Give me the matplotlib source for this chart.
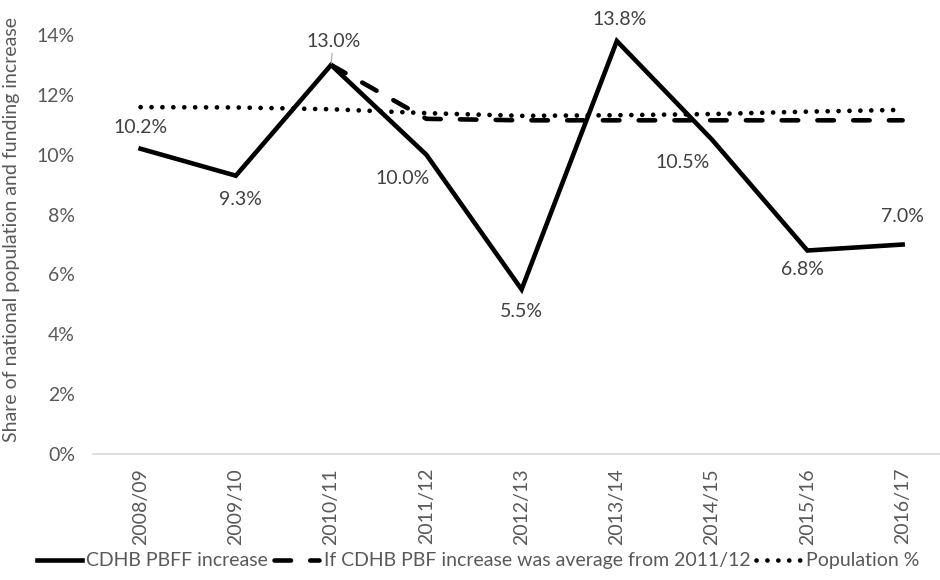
import numpy as np
import matplotlib
matplotlib.use('Agg')
import matplotlib.pyplot as plt

# Datos
years = ['2008/09', '2009/10', '2010/11', '2011/12', '2012/13',
         '2013/14', '2014/15', '2015/16', '2016/17']
cdhb_pbff = [10.2, 9.3, 13.0, 10.0, 5.5, 13.8, 10.5, 6.8, 7.0]
if_average = [np.nan, np.nan, 13.0, 11.2, 11.15, 11.15, 11.15, 11.15, 11.15]
population = [11.59, 11.58, 11.52, 11.39, 11.3, 11.32, 11.36, 11.44, 11.5]

# posiciones de las etiquetas (pixeles respecto al punto)
label_offsets = [(0, 21), (5, -24), (2, 23), (-24, -24), (0, -22),
                 (3, 22), (-30, -23), (-5, -19), (0, 28)]

plt.rcParams['font.family'] = ['Lato', 'DejaVu Sans']
gray = '#595959'
fs = 14

fig = plt.figure(figsize=(9.4, 5.8), dpi=100)
ax = fig.add_axes([0.0989, 0.2172, 0.912, 0.7224])

x = np.arange(len(years))
ax.plot(x, cdhb_pbff, color='black', lw=3.3, solid_joinstyle='miter',
        label='CDHB PBFF increase')
ax.plot(x, if_average, color='black', lw=3.3, dashes=(3.6, 4.2),
        dash_capstyle='round', label='If CDHB PBF increase was average from 2011/12')
ax.plot(x, population, color='black', lw=3.4, dashes=(0.01, 2.3),
        dash_capstyle='round', label='Population %')

for i, v in enumerate(cdhb_pbff):
    dx, dy = label_offsets[i]
    arrow = None
    if i == 2:
        arrow = dict(arrowstyle='-', color='#a6a6a6', lw=0.8, shrinkA=0, shrinkB=1)
    ax.annotate(f'{v:.1f}%', (x[i], v), xytext=(dx, dy), textcoords='offset pixels',
                ha='center', va='center', fontsize=fs, color='#404040',
                arrowprops=arrow)

ax.set_xlim(-0.5, len(years) - 0.5)
ax.set_ylim(0, 14)
ax.set_yticks(range(0, 15, 2))
ax.set_yticklabels([f'{t}%' for t in range(0, 15, 2)])
ax.set_xticks(x)
ax.set_xticklabels(years, rotation=90)
ax.tick_params(axis='both', length=0, labelsize=fs, labelcolor=gray)
ax.tick_params(axis='y', pad=13)
ax.tick_params(axis='x', pad=10)

for s in ['top', 'right', 'left']:
    ax.spines[s].set_visible(False)
ax.spines['bottom'].set_color('#d9d9d9')
ax.spines['bottom'].set_linewidth(1.2)

ax.set_ylabel('Share of national population and funding increase',
              fontsize=fs, color=gray)
ax.yaxis.set_label_coords(-0.0855, 0.535)

fig.legend(loc='center', bbox_to_anchor=(478 / 940, 0.033), ncol=3,
           frameon=False, fontsize=fs, labelcolor=gray,
           handlelength=2.3, handletextpad=0.25, columnspacing=0.3)

fig.savefig('out.png', dpi=100)
